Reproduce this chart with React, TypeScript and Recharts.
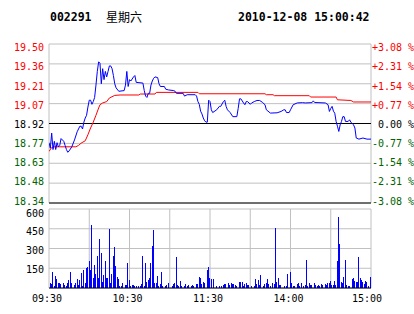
import React from 'react';
import { LineChart, Line, BarChart, Bar, XAxis, YAxis, CartesianGrid, ReferenceLine } from 'recharts';

const stockCode = '002291';
const weekday = '星期六';
const stamp = '2010-12-08 15:00:42';

const prevClose = 18.92;
const priceTicks = [18.34, 18.485, 18.63, 18.775, 18.92, 19.065, 19.21, 19.355, 19.5];
const priceLabels = ['18.34', '18.48', '18.63', '18.77', '18.92', '19.07', '19.21', '19.36', '19.50'];
const pctTicks = [-3.08, -2.31, -1.54, -0.77, 0, 0.77, 1.54, 2.31, 3.08];
const pctLabels = ['-3.08 %', '-2.31 %', '-1.54 %', '-0.77 %', ' 0.00 %', '+0.77 %', '+1.54 %', '+2.31 %', '+3.08 %'];
const timeTicks = [0, 30, 60, 90, 120, 150, 180, 210, 240];
const timeLabels = ['09:30', '', '10:30', '', '11:30', '', '14:00', '', '15:00'];
const volTicks = [0, 150, 300, 450, 600];
const volLabels = ['', '150', '300', '450', '600'];

// minutes since 09:30 (lunch break skipped) -> last price
const priceMin = [
  0, 1, 2, 3, 4, 5, 6, 7, 8, 9, 10, 11, 12, 13, 14, 15, 17, 19, 21, 22, 23, 24, 25, 26, 27, 28, 29, 30,
  31, 32, 33, 34, 35, 36, 37, 38, 39, 40, 41, 42, 43, 44, 45, 46, 47, 48, 49, 50, 52, 56, 57, 58, 59, 60,
  61, 63, 64, 65, 70, 71, 72, 73, 74, 75, 76, 77, 78, 79, 81, 82, 83, 86, 87, 89, 93, 94, 95, 100, 101,
  103, 109, 110, 111, 112, 113, 114, 115, 116, 117, 118, 119, 120, 121, 122, 125, 127, 128, 130, 131, 132,
  133, 135, 137, 140, 141, 142, 143, 145, 146, 147, 148, 150, 151, 153, 155, 157, 159, 161, 162, 165, 170,
  173, 175, 176, 177, 179, 180, 182, 185, 189, 191, 196, 197, 198, 206, 208, 209, 210, 211, 212, 213, 214,
  215, 216, 217, 218, 219, 220, 221, 223, 224, 225, 226, 227, 228, 229, 231, 234, 237, 240,
];
const priceVal = [
  18.78, 18.74, 18.85, 18.73, 18.79, 18.73, 18.78, 18.75, 18.76, 18.81, 18.8, 18.79, 18.76, 18.73, 18.71,
  18.72, 18.75, 18.8, 18.86, 18.88, 18.9, 18.9, 18.88, 18.93, 18.96, 18.98, 19.04, 19.09,
  19.09, 19.06, 19.08, 19.11, 19.2, 19.3, 19.37, 19.36, 19.21, 19.32, 19.24, 19.3, 19.26, 19.3, 19.34,
  19.34, 19.32, 19.27, 19.21, 19.18, 19.155, 19.16, 19.2, 19.3, 19.19, 19.24,
  19.23, 19.26, 19.27, 19.22, 19.215, 19.16, 19.12, 19.11, 19.14, 19.14, 19.2, 19.23, 19.25, 19.26, 19.255,
  19.21, 19.19, 19.19, 19.17, 19.165, 19.16, 19.155, 19.14, 19.14, 19.12,
  19.13, 19.13, 19.12, 19.08, 19.06, 19.01, 18.99, 18.96, 18.94, 18.93, 18.93, 19.09, 19.08, 19.02, 19.0,
  19.02, 19.045, 19.045, 19.08, 19.09, 19.045,
  19.02, 19.0, 18.97, 18.97, 19.03, 19.1, 19.1, 19.07, 19.057, 19.08, 19.08, 19.06, 19.07, 19.08, 19.088,
  19.088, 19.075, 19.057, 19.02, 18.996, 18.998,
  19.008, 19.02, 19.02, 19.0, 19.0, 19.02, 19.057, 19.07, 19.072, 19.07, 19.072, 19.085, 19.073, 19.07,
  19.057, 19.008, 19.03, 19.045, 19.01, 18.995, 18.935,
  18.9, 18.862, 18.91, 18.935, 18.97, 18.97, 18.935, 18.935, 18.947, 18.93, 18.92, 18.91, 18.887, 18.814,
  18.806, 18.814, 18.806, 18.806,
];

// average price line
const avgMin = [
  0, 2, 4, 20, 22, 24, 27, 29, 31, 33, 35, 37, 38, 40, 43, 45, 49, 53, 67, 68, 79, 80, 111, 112, 161, 162,
  167, 168, 194, 195, 214, 215, 225, 227, 240,
];
const avgVal = [
  18.716, 18.745, 18.75, 18.75, 18.76, 18.777, 18.794, 18.838, 18.887, 18.93, 18.98, 19.033, 19.057, 19.07,
  19.08, 19.106, 19.125, 19.128, 19.128, 19.135, 19.135, 19.147, 19.147, 19.137, 19.137, 19.13, 19.13,
  19.123, 19.123, 19.113, 19.113, 19.093, 19.088, 19.077, 19.077,
];

// per-minute volume (lots)
const volMin = [
  1, 2, 3, 4, 5, 6, 7, 8, 9, 11, 12, 13, 14, 15, 16, 17, 19, 20, 21, 22, 23, 24, 25, 26, 27, 28, 29, 30,
  31, 32, 33, 34, 35, 36, 37, 38, 39, 40, 41, 42, 43, 44, 45, 46, 47, 48, 49, 50, 51, 52, 53, 54, 55, 57,
  58, 59, 60, 61, 62, 63, 64, 65, 67, 68, 69, 70, 71, 72, 73, 74, 75, 76, 77, 78, 79, 80, 81, 82, 83, 84,
  85, 87, 88, 89, 92, 93, 94, 95, 96, 97, 98, 99, 101, 102, 103, 104, 106, 107, 108, 110, 111, 112, 113,
  114, 115, 116, 118, 119, 120,
  121, 123, 125, 127, 129, 130, 131, 132, 134, 135, 136, 137, 138, 139, 140, 142, 143, 144, 145, 146, 147,
  148, 149, 151, 153, 154, 155, 156, 157, 158, 160, 161, 162, 163, 164, 165, 167, 168, 169, 170, 171, 172,
  173, 176, 177, 178, 180, 181, 182, 183, 185, 186, 187, 188, 190, 191, 192, 193, 194, 195, 196, 198, 199,
  200, 201, 202, 203, 204, 206, 207, 208, 209, 210, 211, 212, 213, 214, 215, 216, 217, 218, 219, 220, 221,
  222, 223, 224, 226, 227, 228, 229, 230, 231, 232, 233, 234, 235, 236, 237, 238, 240,
];
const volVal = [
  35, 28, 119, 15, 91, 68, 35, 35, 28, 35, 23, 15, 35, 61, 119, 35, 23, 35, 68, 23, 61, 111, 15, 137, 35, 149,
  162, 205, 137, 478, 73, 175, 104, 243, 73, 372, 263, 48, 99, 205, 73, 73, 448, 35, 104, 243, 311, 167, 83,
  68, 15, 15, 35, 23,
  23, 187, 61, 15, 23, 23, 15, 15, 15, 15, 28, 243, 15, 187, 43, 61, 73, 187, 319, 440, 35, 35, 91, 15, 28,
  119,
  15, 15, 23, 35, 15, 28, 35, 238, 23, 15, 53, 15, 15, 28, 15, 23, 15, 23, 15, 30, 28, 86, 73,
  28, 48, 35, 137, 162, 78,
  68, 68, 15, 15, 15, 23, 28, 28, 35, 23, 35, 28, 30, 23, 15, 43, 48, 43, 15, 28, 35,
  23, 23, 15, 15, 68, 28, 61, 23, 99, 15, 28, 35, 68, 28, 15, 35, 28, 453, 43, 73, 23,
  23, 15, 15, 104, 119, 35, 15, 15, 28, 35, 15, 35, 15, 23, 213, 15, 35, 23, 23, 35, 23,
  15, 23, 15, 28, 23, 28, 23, 40, 35, 53, 23, 23, 53, 23, 205, 536, 331, 43, 35, 86, 213,
  23, 15, 15, 68, 78, 53, 43, 48, 238, 73, 61, 48, 28, 53, 43, 15, 86,
];

const pricePoints = priceMin.map((t, i) => ({ t, p: priceVal[i] }));
const avgPoints = avgMin.map((t, i) => ({ t, p: avgVal[i] }));
const volData = volMin.map((t, i) => ({ t, v: volVal[i] }));

const MONO = 'DejaVu Sans Mono';
const RED = '#ff0000';
const GREEN = '#006400';
const GRID = '#c0c0c0';

const signColor = (v: number, mid: number) =>
  v > mid + 1e-6 ? RED : v < mid - 1e-6 ? GREEN : '#000000';

// labels sit slightly inside the plot at the top and bottom
const spread = (index: number, count: number, top: number, bottom: number) => {
  const frac = 1 - index / (count - 1);
  return top - frac * (top - bottom);
};

function PriceTick(props: any) {
  const { x, y, index, payload } = props;
  const dy = spread(index, priceTicks.length, 3.7, -2);
  return (
    <text x={x} y={y + dy + 3.5} textAnchor="end" fontFamily={MONO} fontSize={10}
      fill={signColor(payload.value, prevClose)}>
      {priceLabels[index]}
    </text>
  );
}

function PctTick(props: any) {
  const { x, y, index, payload } = props;
  const dy = spread(index, pctTicks.length, 3.7, -2);
  return (
    <text x={x} y={y + dy + 3.5} textAnchor="start" fontFamily={MONO} fontSize={10}
      fill={signColor(payload.value, 0)} xmlSpace="preserve" style={{ whiteSpace: 'pre' }}>
      {pctLabels[index]}
    </text>
  );
}

function VolTick(props: any) {
  const { x, y, index } = props;
  const dy = spread(index, volTicks.length, 4.2, 0);
  return (
    <text x={x} y={y + dy + 3.5} textAnchor="end" fontFamily={MONO} fontSize={10} fill="#000">
      {volLabels[index]}
    </text>
  );
}

function TimeTick(props: any) {
  const { x, y, index } = props;
  const last = index === timeTicks.length - 1;
  return (
    <text x={x + (last ? -4 : -2)} y={y + 14} textAnchor="middle" fontFamily={MONO} fontSize={10} fill="#000">
      {timeLabels[index]}
    </text>
  );
}

export default function App() {
  return (
    <div style={{ position: 'absolute', left: 0, top: 0, width: 414, height: 314, background: '#fff', overflow: 'hidden' }}>
      <svg width={414} height={40} style={{ position: 'absolute', left: 0, top: 0 }}>
        <text x={50} y={21} fontFamily={MONO} fontWeight="bold" fontSize={11.5} fill="#000">{stockCode}</text>
        <text x={106} y={21.5} fontFamily="Noto Sans CJK SC" fontSize={12} fill="#000">{weekday}</text>
        <text x={238} y={21} fontFamily={MONO} fontWeight="bold" fontSize={11.5} fill="#000">{stamp}</text>
      </svg>

      <div style={{ position: 'absolute', left: 0, top: 0 }}>
        <LineChart width={414} height={210} margin={{ top: 44, right: 0, bottom: 7, left: 0 }}>
          <CartesianGrid stroke={GRID} yAxisId="price" />
          <XAxis type="number" dataKey="t" domain={[0, 240]} ticks={timeTicks} allowDataOverflow
            height={0} tick={false} axisLine={false} tickLine={false} />
          <YAxis yAxisId="price" orientation="left" width={49} domain={[18.34, 19.5]} ticks={priceTicks}
            allowDataOverflow interval={0} axisLine={false} tickLine={false} tickSize={0} tickMargin={5}
            tick={(p: any) => <PriceTick {...p} />} />
          <YAxis yAxisId="pct" orientation="right" width={43} domain={[-3.08, 3.08]} ticks={pctTicks}
            allowDataOverflow interval={0} axisLine={false} tickLine={false} tickSize={0} tickMargin={1}
            tick={(p: any) => <PctTick {...p} />} />
          <ReferenceLine yAxisId="price" y={prevClose} stroke="#000" />
          <ReferenceLine yAxisId="price" y={18.34} stroke="#000" />
          <Line yAxisId="price" data={avgPoints} dataKey="p" stroke={RED} strokeWidth={1} dot={false}
            isAnimationActive={false} />
          <Line yAxisId="price" data={pricePoints} dataKey="p" stroke="#0000ff" strokeWidth={1} dot={false}
            isAnimationActive={false} />
        </LineChart>
      </div>

      <div style={{ position: 'absolute', left: 0, top: 200 }}>
        <BarChart width={414} height={114} data={volData} margin={{ top: 9, right: 43, bottom: 0, left: 0 }}>
          <CartesianGrid stroke={GRID} />
          <XAxis type="number" dataKey="t" domain={[0, 240]} ticks={timeTicks} allowDataOverflow interval={0}
            height={26} axisLine={false} tickLine={false} tickSize={0} tickMargin={0}
            tick={(p: any) => <TimeTick {...p} />} />
          <YAxis width={49} domain={[0, 600]} ticks={volTicks} allowDataOverflow interval={0}
            axisLine={false} tickLine={false} tickSize={0} tickMargin={5}
            tick={(p: any) => <VolTick {...p} />} />
          <ReferenceLine y={0} stroke="#000" />
          <Bar dataKey="v" fill="#0000ff" barSize={1} shapeRendering="crispEdges" isAnimationActive={false} />
        </BarChart>
      </div>
    </div>
  );
}
